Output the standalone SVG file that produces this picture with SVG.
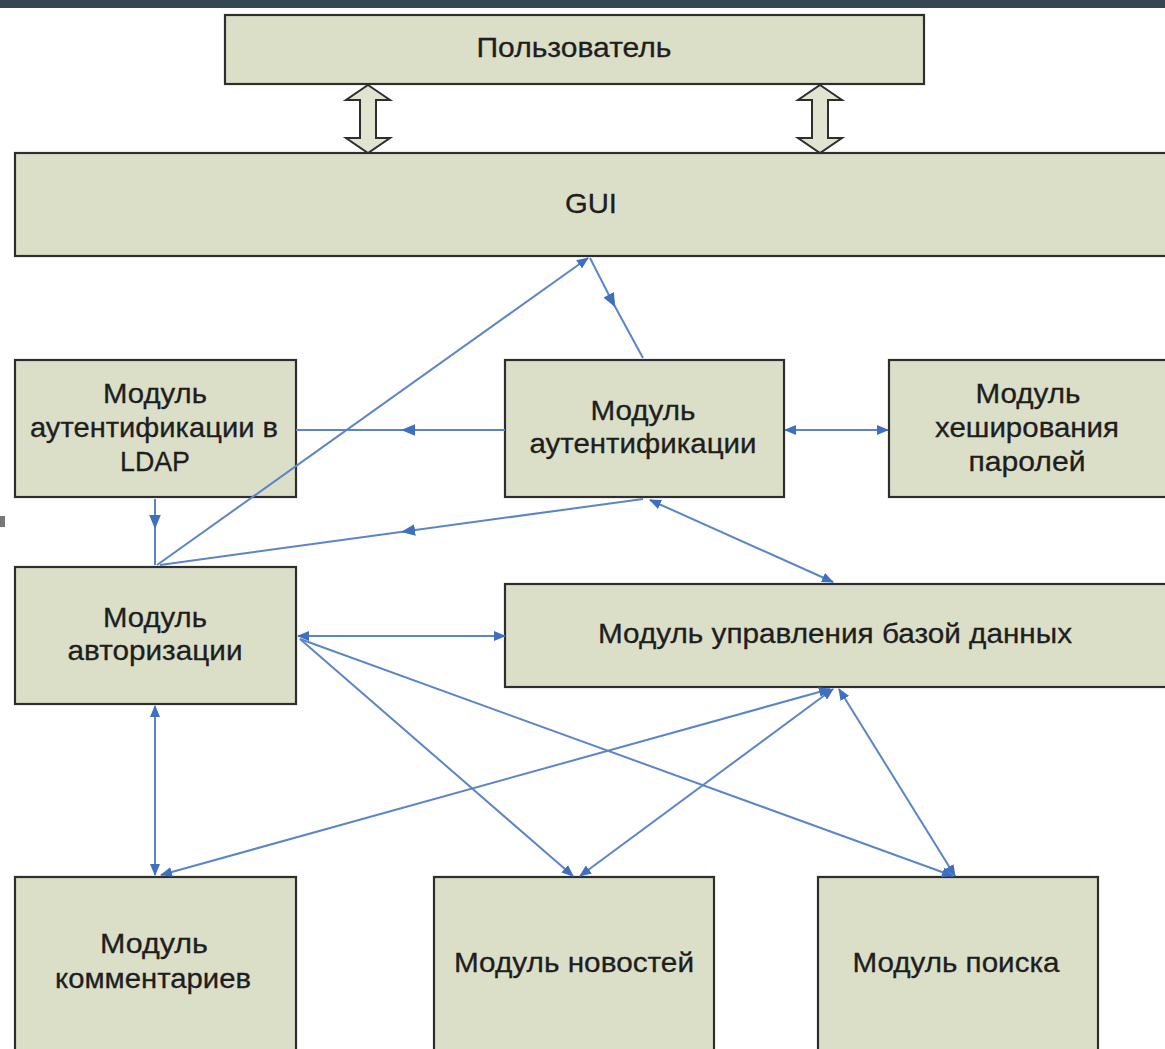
<svg xmlns="http://www.w3.org/2000/svg" width="1165" height="1049" viewBox="0 0 1165 1049">
<style>
.box{fill:#dcdfc8;stroke:#2e2e2e;stroke-width:2.2}
.t{font-family:"Liberation Sans",Arial,sans-serif;font-size:28px;fill:#1e1e1e;text-anchor:middle;stroke:#1e1e1e;stroke-width:0.3}
.c{fill:none;stroke:#5a86c8;stroke-width:2}
.blk{fill:#e2e4d2;stroke:#2e2e2e;stroke-width:2}
</style>
<defs>
<marker id="ah" viewBox="0 0 12 10" refX="11" refY="5" markerWidth="12" markerHeight="10" markerUnits="userSpaceOnUse" orient="auto-start-reverse">
<path d="M0,0 L12,5 L0,10 Z" fill="#3f6fc0"/>
</marker>
<marker id="mh" viewBox="0 0 12 10" refX="6" refY="5" markerWidth="14" markerHeight="12" markerUnits="userSpaceOnUse" orient="auto">
<path d="M0,0 L12,5 L0,10 Z" fill="#3f6fc0"/>
</marker>
</defs>
<rect x="0" y="0" width="1165" height="8" fill="#37474f"/>
<rect x="0" y="516" width="5" height="11" fill="#777"/>

<g id="user"><rect class="box" x="225" y="15" width="699" height="69"/><text class="t" x="574" y="57" textLength="195" lengthAdjust="spacingAndGlyphs">Пользователь</text></g>
<g id="gui"><rect class="box" x="15" y="153" width="1160" height="103"/><text class="t" x="591" y="213" textLength="52" lengthAdjust="spacingAndGlyphs">GUI</text></g>
<g id="ldap"><rect class="box" x="15" y="360" width="281" height="137"/>
<text class="t" x="155" y="403" textLength="104" lengthAdjust="spacingAndGlyphs">Модуль</text>
<text class="t" x="154" y="437" textLength="248" lengthAdjust="spacingAndGlyphs">аутентификации в</text>
<text class="t" x="155" y="471" textLength="70" lengthAdjust="spacingAndGlyphs">LDAP</text></g>
<g id="auth"><rect class="box" x="505" y="360" width="279" height="137"/>
<text class="t" x="643" y="420" textLength="105" lengthAdjust="spacingAndGlyphs">Модуль</text>
<text class="t" x="643" y="453" textLength="227" lengthAdjust="spacingAndGlyphs">аутентификации</text></g>
<g id="hash"><rect class="box" x="889" y="360" width="286" height="137"/>
<text class="t" x="1028" y="403" textLength="105" lengthAdjust="spacingAndGlyphs">Модуль</text>
<text class="t" x="1027" y="437" textLength="184" lengthAdjust="spacingAndGlyphs">хеширования</text>
<text class="t" x="1027" y="471" textLength="117" lengthAdjust="spacingAndGlyphs">паролей</text></g>
<g id="authz"><rect class="box" x="15" y="567" width="281" height="137"/>
<text class="t" x="155" y="627" textLength="104" lengthAdjust="spacingAndGlyphs">Модуль</text>
<text class="t" x="155" y="660" textLength="175" lengthAdjust="spacingAndGlyphs">авторизации</text></g>
<g id="db"><rect class="box" x="505" y="584" width="670" height="103"/>
<text class="t" x="835" y="643" textLength="474" lengthAdjust="spacingAndGlyphs">Модуль управления базой данных</text></g>
<g id="comments"><rect class="box" x="15" y="877" width="281" height="190"/>
<text class="t" x="154" y="953" textLength="108" lengthAdjust="spacingAndGlyphs">Модуль</text>
<text class="t" x="153" y="988" textLength="196" lengthAdjust="spacingAndGlyphs">комментариев</text></g>
<g id="news"><rect class="box" x="434" y="877" width="280" height="190"/>
<text class="t" x="574" y="972" textLength="240" lengthAdjust="spacingAndGlyphs">Модуль новостей</text></g>
<g id="search"><rect class="box" x="818" y="877" width="280" height="190"/>
<text class="t" x="956" y="972" textLength="207" lengthAdjust="spacingAndGlyphs">Модуль поиска</text></g>

<g id="connectors">
<path class="blk" d="M368,85 L390,100 L376,100 L376,138 L390,138 L368,153 L346,138 L360,138 L360,100 L346,100 Z"/>
<path class="blk" d="M820,85 L842,100 L828,100 L828,138 L842,138 L820,153 L798,138 L812,138 L812,100 L798,100 Z"/>
<path class="c" d="M157,565 L588,258" marker-end="url(#ah)"/>
<path class="c" d="M590,258 L612,301 L643,358" marker-mid="url(#mh)"/>
<path class="c" d="M505,430 L408,430 L296,430" marker-mid="url(#mh)"/>
<path class="c" d="M643,499 L408,531 L160,565" marker-mid="url(#mh)"/>
<path class="c" d="M650,500 L833,582" marker-start="url(#ah)" marker-end="url(#ah)"/>
<path class="c" d="M785,430 L888,430" marker-start="url(#ah)" marker-end="url(#ah)"/>
<path class="c" d="M155,499 L155,522 L155,565" marker-mid="url(#mh)"/>
<path class="c" d="M298,636 L505,636" marker-start="url(#ah)" marker-end="url(#ah)"/>
<path class="c" d="M300,639 L573,876" marker-end="url(#ah)"/>
<path class="c" d="M300,639 L953,876" marker-end="url(#ah)"/>
<path class="c" d="M155,706 L155,875" marker-start="url(#ah)" marker-end="url(#ah)"/>
<path class="c" d="M830,689 L161,875" marker-start="url(#ah)" marker-end="url(#ah)"/>
<path class="c" d="M833,689 L580,876" marker-start="url(#ah)" marker-end="url(#ah)"/>
<path class="c" d="M839,689 L955,876" marker-start="url(#ah)" marker-end="url(#ah)"/>
</g>
</svg>
